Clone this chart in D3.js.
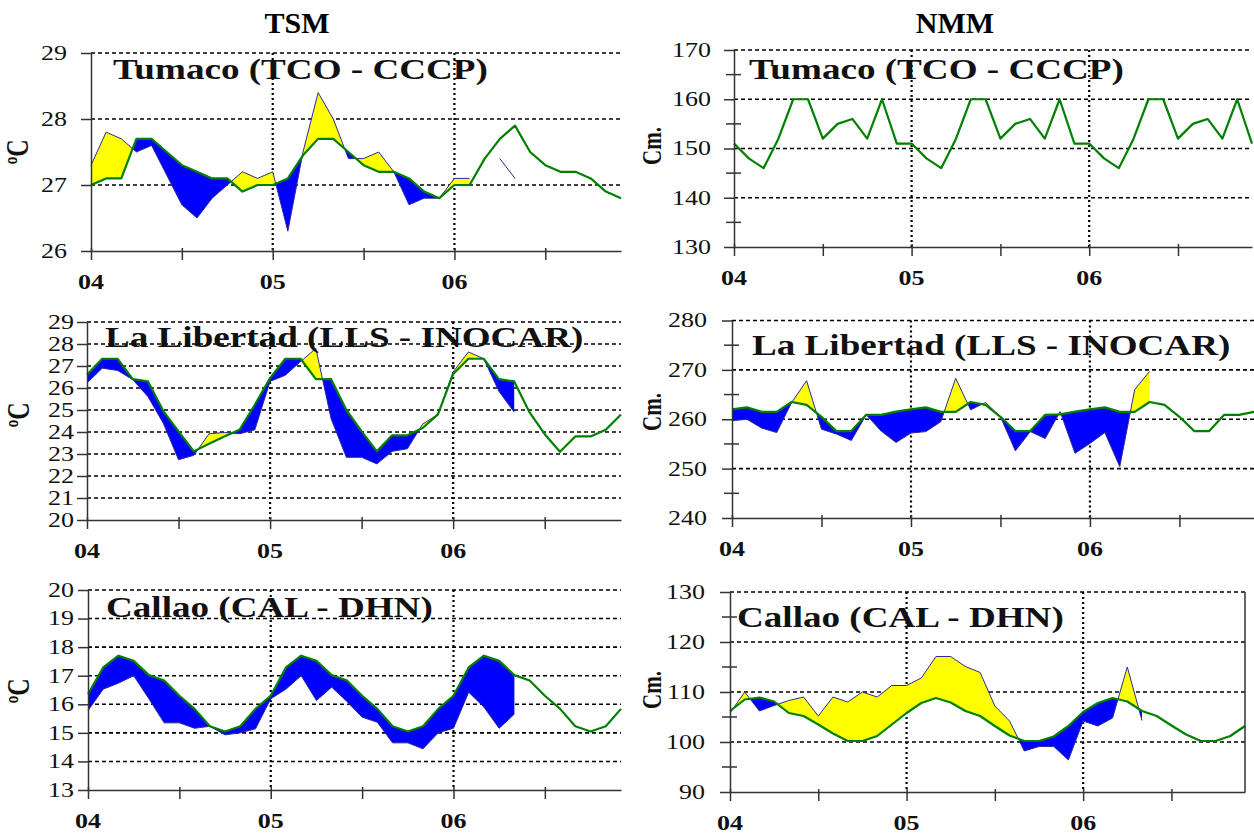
<!DOCTYPE html>
<html>
<head>
<meta charset="utf-8">
<script src="https://cdn.jsdelivr.net/npm/d3@7"></script>
<style>
  body { margin: 0; background: #fff; }
  svg { display: block; }
</style>
</head>
<body>
<div id="chart"></div>
<script>
// month index 0 = Jan 2004 ... 35 = Dec 2006
var yearLabels = ["04", "05", "06"];

// Tumaco TSM (ºC)
var tcoTsmClim = [27.0, 27.1, 27.1, 27.7, 27.7, 27.5, 27.3, 27.2, 27.1, 27.1, 26.9, 27.0,
                  27.0, 27.1, 27.45, 27.7, 27.7, 27.5, 27.3, 27.2, 27.2, 27.1, 26.9, 26.8,
                  27.0, 27.0, 27.4, 27.7, 27.9, 27.5, 27.3, 27.2, 27.2, 27.1, 26.9, 26.8];
var tcoTsmObs  = [27.3, 27.8, 27.7, 27.5, 27.6, 27.15, 26.7, 26.5, 26.8, 27.0, 27.2, 27.1,
                  27.2, 26.3, 27.5, 28.4, 28.0, 27.4, 27.4, 27.5, 27.2, 26.7, 26.8, 26.8,
                  27.1, 27.1, null, null, null, null, null, null, null, null, null, null];
var tcoTsmStray = [null, null, null, null, null, null, null, null, null, null, null, null,
                   null, null, null, null, null, null, null, null, null, null, null, null,
                   null, null, null, 27.4, 27.1, null, null, null, null, null, null, null];

// Tumaco NMM (cm)
var tcoNmmClim = [151, 148, 146, 152, 160, 160, 152, 155, 156, 152, 160, 151,
                  151, 148, 146, 152, 160, 160, 152, 155, 156, 152, 160, 151,
                  151, 148, 146, 152, 160, 160, 152, 155, 156, 152, 160, 151];

// La Libertad TSM (ºC)
var llsTsmClim = [26.6, 27.33, 27.33, 26.4, 26.3, 24.95, 24.03, 23.12, 23.47, 23.8, 24.1, 25.24,
                  26.45, 27.33, 27.33, 26.4, 26.4, 25.0, 24.03, 23.12, 23.85, 23.85, 24.18, 24.8,
                  26.64, 27.33, 27.33, 26.4, 26.3, 24.9, 23.9, 23.1, 23.8, 23.8, 24.1, 24.8];
var llsTsmObs  = [26.23, 26.9, 26.8, 26.38, 25.6, 24.4, 22.74, 22.94, 23.92, 23.98, 23.92, 24.1,
                  26.3, 26.58, 27.2, 27.8, 24.6, 22.85, 22.85, 22.55, 23.12, 23.24, 24.36, 24.8,
                  26.73, 27.64, 27.33, 25.85, 24.9, null, null, null, null, null, null, null];

// La Libertad NMM (cm)
var llsNmmClim = [262.0, 262.4, 261.5, 261.5, 263.5, 262.9, 260.5, 257.6, 257.6, 260.9, 260.9, 261.55,
                  262.0, 262.4, 261.5, 261.5, 263.5, 262.9, 260.5, 257.6, 257.6, 260.9, 261.0, 261.55,
                  262.0, 262.4, 261.5, 261.5, 263.5, 262.9, 260.5, 257.6, 257.6, 260.9, 260.9, 261.5];
var llsNmmObs  = [259.7, 260.0, 258.2, 257.3, 263.4, 267.8, 258.0, 257.0, 255.7, 260.9, 257.6, 255.3,
                  257.2, 257.5, 259.5, 268.3, 261.9, 263.4, 260.5, 253.6, 257.5, 256.1, 261.55, 253.1,
                  255.1, 257.3, 250.4, 266.0, 269.7, null, null, null, null, null, null, null];

// Callao TSM (ºC)
var calTsmClim = [16.36, 17.29, 17.7, 17.52, 17.02, 16.83, 16.3, 15.84, 15.23, 15.05, 15.23, 15.84,
                  16.3, 17.29, 17.7, 17.52, 17.02, 16.83, 16.3, 15.84, 15.23, 15.05, 15.23, 15.84,
                  16.3, 17.29, 17.7, 17.52, 17.02, 16.83, 16.3, 15.84, 15.23, 15.05, 15.23, 15.84];
var calTsmObs  = [15.78, 16.53, 16.74, 17.0, 16.19, 15.35, 15.35, 15.16, 15.23, 14.93, 15.0, 15.14,
                  16.19, 16.53, 17.0, 16.13, 16.6, 16.1, 15.55, 15.37, 14.65, 14.65, 14.44, 15.0,
                  15.16, 16.42, 15.9, 15.16, 15.66, null, null, null, null, null, null, null];

// Callao NMM (cm)
var calNmmClim = [106.2, 108.5, 108.9, 108.1, 105.8, 105.2, 103.5, 101.7, 100.2, 100.2, 101.2, 103.5,
                  105.8, 107.8, 108.8, 107.9, 106.2, 105.2, 103.2, 101.3, 100.2, 100.2, 101.1, 103.2,
                  106.0, 107.8, 108.8, 108.1, 106.2, 105.2, 103.3, 101.5, 100.2, 100.2, 101.2, 103.2];
var calNmmObs  = [105.8, 110.0, 106.2, 107.3, 108.3, 109.0, 105.2, 109.0, 108.0, 110.0, 109.0, 111.3,
                  111.3, 112.8, 117.1, 117.1, 115.1, 113.9, 107.2, 104.2, 98.2, 99.1, 99.1, 96.4,
                  104.2, 103.2, 104.8, 115.0, 104.3, null, null, null, null, null, null, null];

var W = 1254, H = 833,
    serif = "'Liberation Serif','Times New Roman',serif",
    textStretch = 1.3;

var panels = [
  {name: "Tumaco (TCO - CCCP)", unit: "\u00baC", clim: tcoTsmClim, obs: tcoTsmObs, extra: tcoTsmStray,
   x0: 91, x1: 621, yTop: 53, yBot: 251, dom: [26, 29], step: 1, minor: 0, gap: 24,
   tx: 113, ty: 79, ux: 28, uy: 152},
  {name: "Tumaco (TCO - CCCP)", unit: "Cm.", clim: tcoNmmClim, obs: null, extra: null,
   x0: 734, x1: 1252, yTop: 50, yBot: 247, dom: [130, 170], step: 10, minor: 5, gap: 23,
   tx: 749, ty: 79, ux: 661, uy: 146},
  {name: "La Libertad (LLS - INOCAR)", unit: "\u00baC", clim: llsTsmClim, obs: llsTsmObs, extra: null,
   x0: 87, x1: 621, yTop: 322, yBot: 520, dom: [20, 29], step: 1, minor: 0, gap: 13,
   tx: 105, ty: 347, ux: 29, uy: 415},
  {name: "La Libertad (LLS - INOCAR)", unit: "Cm.", clim: llsNmmClim, obs: llsNmmObs, extra: null,
   x0: 732, x1: 1254, yTop: 320.5, yBot: 518, dom: [240, 280], step: 10, minor: 5, gap: 25,
   tx: 752, ty: 355, ux: 661, uy: 412},
  {name: "Callao (CAL - DHN)", unit: "\u00baC", clim: calTsmClim, obs: calTsmObs, extra: null,
   x0: 88, x1: 621, yTop: 590, yBot: 790, dom: [13, 20], step: 1, minor: 0, gap: 14,
   tx: 106, ty: 617, ux: 29, uy: 691},
  {name: "Callao (CAL - DHN)", unit: "Cm.", clim: calNmmClim, obs: calNmmObs, extra: null,
   x0: 730, x1: 1245, yTop: 592, yBot: 792, dom: [90, 130], step: 10, minor: 5, gap: 25,
   tx: 737, ty: 627, ux: 661, uy: 690, border: true}
];

var svg = d3.select("#chart").append("svg")
    .attr("width", W)
    .attr("height", H);

svg.append("rect").attr("width", W).attr("height", H).attr("fill", "#fff");

// column headings
svg.append("text").attr("x", 297).attr("y", 33).attr("text-anchor", "middle")
    .style("font-family", serif).style("font-weight", "bold").style("font-size", "30px")
    .text("TSM");
svg.append("text").attr("x", 955).attr("y", 33).attr("text-anchor", "middle")
    .style("font-family", serif).style("font-weight", "bold").style("font-size", "30px")
    .text("NMM");

// widen glyphs horizontally like the original picture
function stretch(sel, k) {
  sel.each(function() {
    var t = d3.select(this), xa = +t.attr("x") || 0;
    t.attr("transform", "translate(" + xa + ",0) scale(" + k + ",1) translate(" + (-xa) + ",0)");
  });
}

panels.forEach(function(p, k) {
  var months = d3.range(p.clim.length);
  var x = d3.scaleLinear().domain([0, 35]).range([p.x0, p.x1]);
  var y = d3.scaleLinear().domain(p.dom).range([p.yBot, p.yTop]);
  var g = svg.append("g").attr("class", "panel");

  var majors = d3.range(p.dom[0], p.dom[1] + 0.001, p.step);

  // horizontal grid
  g.selectAll(".hgrid")
      .data(majors.filter(function(v) { return v > p.dom[0]; }))
    .enter().append("line")
      .attr("x1", p.x0).attr("x2", p.x1)
      .attr("y1", function(v) { return y(v); })
      .attr("y2", function(v) { return y(v); })
      .attr("stroke", "#000")
      .attr("stroke-width", 1.6)
      .attr("stroke-dasharray", "4,3");

  // year separators
  g.selectAll(".vgrid")
      .data([12, 24])
    .enter().append("line")
      .attr("x1", function(m) { return x(m); }).attr("x2", function(m) { return x(m); })
      .attr("y1", p.yTop).attr("y2", p.yBot)
      .attr("stroke", "#000")
      .attr("stroke-width", 2.2)
      .attr("stroke-dasharray", "2,3");

  // anomaly fill: yellow above climatology, blue below
  if (p.obs) {
    var above = d3.area()
        .x(function(i) { return x(i); })
        .y0(p.yTop - 40)
        .y1(function(i) { return y(p.clim[i]); });
    var below = d3.area()
        .x(function(i) { return x(i); })
        .y0(function(i) { return y(p.clim[i]); })
        .y1(p.yBot + 40);

    var defs = g.append("defs");
    defs.append("clipPath").attr("id", "above" + k)
      .append("path").attr("d", above(months));
    defs.append("clipPath").attr("id", "below" + k)
      .append("path").attr("d", below(months));

    var band = d3.area()
        .defined(function(i) { return p.obs[i] != null; })
        .x(function(i) { return x(i); })
        .y0(function(i) { return y(p.clim[i]); })
        .y1(function(i) { return y(p.obs[i]); });

    g.append("path").attr("d", band(months))
        .attr("fill", "#ffff00")
        .attr("clip-path", "url(#above" + k + ")");
    g.append("path").attr("d", band(months))
        .attr("fill", "#0000ff")
        .attr("clip-path", "url(#below" + k + ")");

    var obsLine = d3.line()
        .defined(function(i) { return p.obs[i] != null; })
        .x(function(i) { return x(i); })
        .y(function(i) { return y(p.obs[i]); });
    g.append("path").attr("d", obsLine(months))
        .attr("fill", "none")
        .attr("stroke", "#2a2a9a")
        .attr("stroke-width", 1);
  }

  if (p.extra) {
    var extraLine = d3.line()
        .defined(function(i) { return p.extra[i] != null; })
        .x(function(i) { return x(i); })
        .y(function(i) { return y(p.extra[i]); });
    g.append("path").attr("d", extraLine(months))
        .attr("fill", "none")
        .attr("stroke", "#2a2a9a")
        .attr("stroke-width", 1);
  }

  // climatology
  var climLine = d3.line()
      .x(function(i) { return x(i); })
      .y(function(i) { return y(p.clim[i]); });
  g.append("path").attr("d", climLine(months))
      .attr("fill", "none")
      .attr("stroke", "#008000")
      .attr("stroke-width", 2.2)
      .attr("stroke-linejoin", "round");

  // y axis
  var yAxis = g.append("g")
      .attr("transform", "translate(" + p.x0 + ",0)")
      .attr("color", "#333")
      .call(d3.axisLeft(y).tickValues(majors).tickSizeInner(10).tickSizeOuter(0)
        .tickPadding(p.gap - 10).tickFormat(d3.format("d")));
  yAxis.select(".domain").attr("stroke-width", 1.5);
  yAxis.selectAll(".tick line").attr("stroke-width", 1.5);
  yAxis.selectAll("text")
      .attr("fill", "#111")
      .style("font-family", serif)
      .style("font-size", "20px")
      .call(stretch, textStretch);

  if (p.minor) {
    g.selectAll(".minor")
        .data(d3.range(p.dom[0] + p.minor, p.dom[1], p.step))
      .enter().append("line")
        .attr("x1", p.x0 - 8).attr("x2", p.x0 + 7)
        .attr("y1", function(v) { return y(v); })
        .attr("y2", function(v) { return y(v); })
        .attr("stroke", "#333")
        .attr("stroke-width", 1.5);
  }

  // x axis
  var xAxis = g.append("g")
      .attr("transform", "translate(0," + p.yBot + ")")
      .attr("color", "#333")
      .call(d3.axisBottom(x).tickValues([0, 6, 12, 18, 24, 30]).tickSizeInner(9).tickSizeOuter(0)
        .tickFormat(""));
  xAxis.select(".domain").attr("stroke-width", 1.5);
  xAxis.selectAll(".tick line").attr("stroke-width", 1.5).attr("y1", -3);

  g.selectAll(".yearLabel")
      .data(yearLabels)
    .enter().append("text")
      .attr("x", function(d, i) { return x(i * 12); })
      .attr("y", p.yBot + 38)
      .attr("text-anchor", "middle")
      .attr("fill", "#111")
      .style("font-family", serif)
      .style("font-weight", "bold")
      .style("font-size", "20px")
      .text(function(d) { return d; })
      .call(stretch, textStretch);

  if (p.border) {
    g.append("line")
        .attr("x1", p.x1).attr("x2", p.x1)
        .attr("y1", p.yTop).attr("y2", p.yBot)
        .attr("stroke", "#333")
        .attr("stroke-width", 1.5);
  }

  // unit label (rotated, glyphs thickened across like the rest of the picture)
  g.append("text")
      .attr("transform", "translate(" + p.ux + "," + p.uy + ") rotate(-90) scale(1,1.28)")
      .attr("text-anchor", "middle")
      .attr("fill", "#111")
      .style("font-family", serif)
      .style("font-weight", "bold")
      .style("font-size", p.unit === "Cm." ? "21px" : "24px")
      .text(p.unit);

  // station name
  g.append("text")
      .attr("transform", "translate(" + p.tx + "," + p.ty + ") scale(1.28,1)")
      .attr("fill", "#111")
      .style("font-family", serif)
      .style("font-weight", "bold")
      .style("font-size", "29px")
      .text(p.name);
});
</script>
</body>
</html>
